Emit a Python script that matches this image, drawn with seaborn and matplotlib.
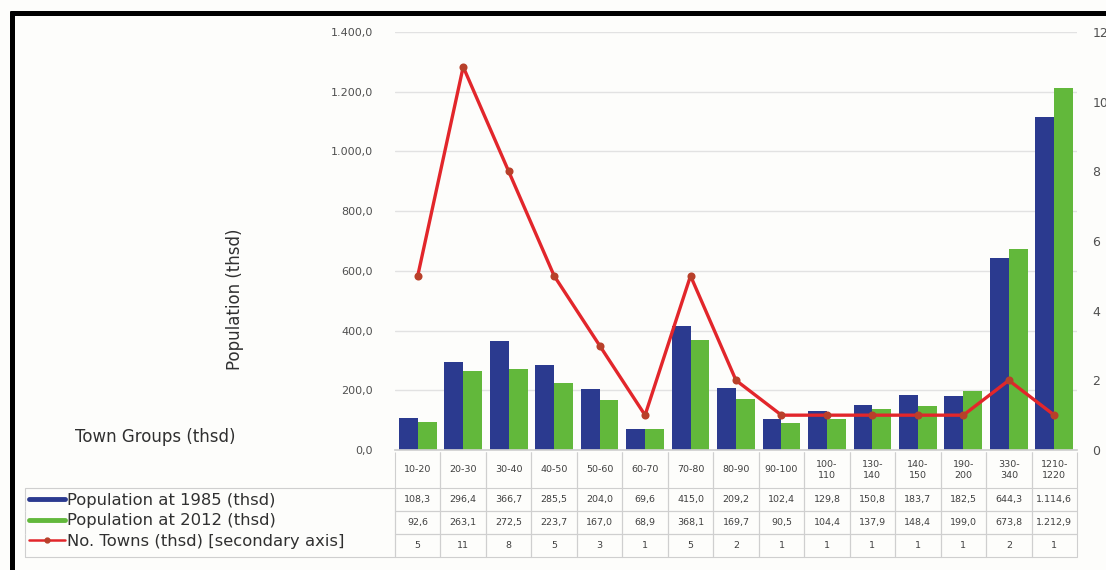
import numpy as np
import pandas as pd
import seaborn as sns
import matplotlib.pyplot as plt
from matplotlib.lines import Line2D

groups = ['10-20', '20-30', '30-40', '40-50', '50-60', '60-70', '70-80', '80-90',
          '90-100', '100-\n110', '130-\n140', '140-\n150', '190-\n200', '330-\n340', '1210-\n1220']
pop_1985 = [108.3, 296.4, 366.7, 285.5, 204.0, 69.6, 415.0, 209.2,
            102.4, 129.8, 150.8, 183.7, 182.5, 644.3, 1114.6]
pop_2012 = [92.6, 263.1, 272.5, 223.7, 167.0, 68.9, 368.1, 169.7,
            90.5, 104.4, 137.9, 148.4, 199.0, 673.8, 1212.9]
towns = [5, 11, 8, 5, 3, 1, 5, 2, 1, 1, 1, 1, 1, 2, 1]

series_names = ['Population at 1985 (thsd)', 'Population at 2012 (thsd)',
                'No. Towns (thsd) [secondary axis]']

blue = '#2B3A8F'
green = '#62B83B'
red = '#E2262B'

# long form table for seaborn
df = pd.DataFrame({
    'group': groups * 2,
    'pop': pop_1985 + pop_2012,
    'year': ['1985'] * len(groups) + ['2012'] * len(groups),
})


def eu(v):
    # 1400.0 -> "1.400,0"
    s = f'{v:,.1f}'
    return s.replace(',', '#').replace('.', ',').replace('#', '.')


sns.set_theme(style='white')
plt.rcParams['font.family'] = ['DejaVu Sans']

W, H = 1106, 570
fig = plt.figure(figsize=(W / 100, H / 100), dpi=100)
fig.patch.set_facecolor('#FDFDFB')

# axes placed in pixel terms of the reference
ax = fig.add_axes([395 / W, 1 - 450 / H, 682 / W, 418 / H])
ax.set_facecolor('none')

sns.barplot(data=df, x='group', y='pop', hue='year', palette=[blue, green],
            width=0.83, gap=0, saturation=1, legend=False, ax=ax,
            linewidth=0, edgecolor='none')
ax.set_ylim(0, 1400)
ax.set_yticks(np.arange(0, 1401, 200))
ax.set_yticklabels([eu(v) for v in np.arange(0, 1401, 200)])
ax.yaxis.grid(True, color='#E2E2E2', lw=1)
ax.set_axisbelow(True)
for s in ['top', 'left', 'right']:
    ax.spines[s].set_visible(False)
ax.spines['bottom'].set_color('#D0D0D0')

ax2 = ax.twinx()
sns.pointplot(x=groups, y=towns, ax=ax2, color=red, markers='o',
              markersize=4, linewidth=2.4)
ax2.lines[0].set_markerfacecolor('#B8402A')
ax2.lines[0].set_markeredgecolor('#B8402A')
ax2.set_ylim(0, 12)
ax2.set_yticks(np.arange(0, 13, 2))
for s in ax2.spines.values():
    s.set_visible(False)

ax.tick_params(axis='y', length=0, pad=16, labelsize=8, labelcolor='#505050')
ax2.tick_params(axis='y', length=0, pad=11, labelsize=9, labelcolor='#505050')
ax.tick_params(axis='x', length=0, labelbottom=False)
ax2.tick_params(axis='x', length=0, labelbottom=False)
ax.set_xlabel('')
ax.set_ylabel('')
ax2.set_ylabel('')
ax2.set_xlabel('')

# data table under the chart
cell_text = [[''] + groups,
             [''] + [eu(v) for v in pop_1985],
             [''] + [eu(v) for v in pop_2012],
             [''] + [str(v) for v in towns]]
col_w = [370] + [682 / 15] * 15
tbl = ax.table(cellText=cell_text, colWidths=col_w, cellLoc='center',
               bbox=[(25 - 395) / 682, -(557 - 450) / 418, (1077 - 25) / 682, 105 / 418])
tbl.auto_set_font_size(False)
tbl.set_fontsize(6.8)
row_h = [36, 23, 23, 23]
for (r, c), cell in tbl.get_celld().items():
    cell.set_height(row_h[r])
    cell.set_edgecolor('#CFCFCF')
    cell.set_linewidth(0.8)
    cell.set_facecolor('none')
    cell.get_text().set_color('#404040')
    if r == 0:
        cell.visible_edges = '' if c == 0 else 'LR'
    elif c == 0:
        cell.visible_edges = {1: 'LTR', 2: 'LR', 3: 'LRB'}[r]

# row legend inside the first table column
handles = [Line2D([], [], color=blue, lw=3.5),
           Line2D([], [], color=green, lw=3.5),
           Line2D([], [], color=red, lw=1.8, marker='o', markersize=3.5,
                  markerfacecolor='#B8402A', markeredgecolor='#B8402A')]
fig.legend(handles, series_names, loc='upper left',
           bbox_to_anchor=(29 / W, 1 - 493 / H), frameon=False,
           fontsize=11.8, handlelength=2.2, handletextpad=0.12,
           labelspacing=0.33, borderpad=0, borderaxespad=0,
           labelcolor='#303030')

fig.text(155 / W, 1 - 437 / H, 'Town Groups (thsd)', ha='center', va='center',
         fontsize=12, color='#303030')
fig.text(235 / W, 1 - 299 / H, 'Population (thsd)', ha='center', va='center',
         rotation=90, fontsize=12, color='#303030')

# black frame at top and left edges
fig.add_artist(Line2D([10 / W, 1], [1 - 12.5 / H, 1 - 12.5 / H], color='black', lw=3.6,
                      solid_capstyle='butt', transform=fig.transFigure))
fig.add_artist(Line2D([12 / W, 12 / W], [0, 1 - 10.5 / H], color='black', lw=3.6,
                      solid_capstyle='butt', transform=fig.transFigure))

fig.savefig('out.png', dpi=100, facecolor=fig.get_facecolor())
